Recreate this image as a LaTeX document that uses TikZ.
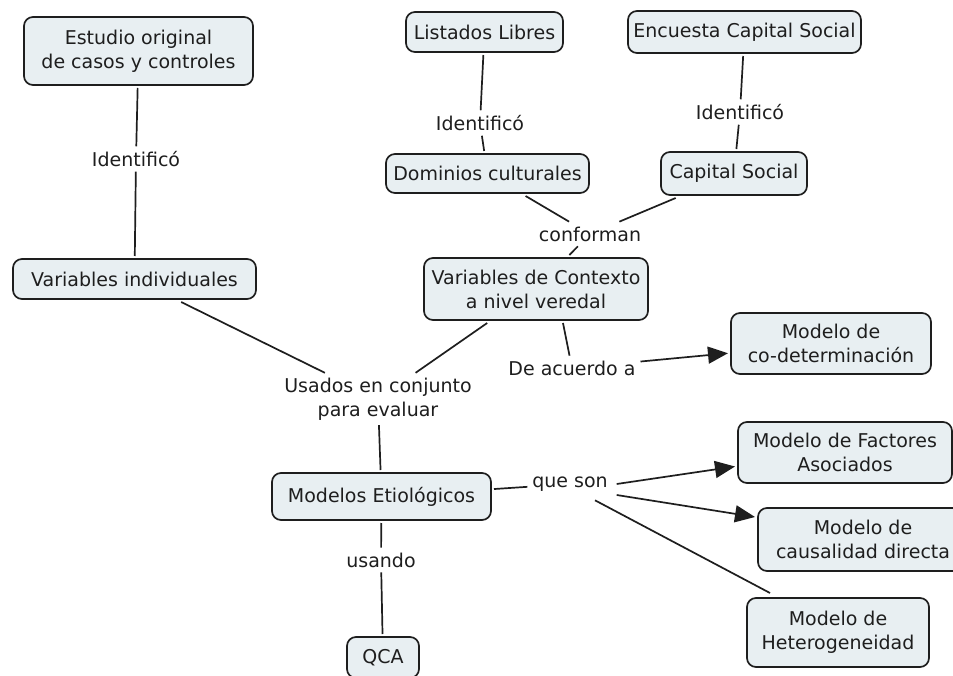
\documentclass[tikz,border=0pt]{standalone}
\usepackage{fontspec}
\setmainfont{DejaVu Sans}
\usetikzlibrary{arrows.meta}
\definecolor{boxfill}{HTML}{E8EFF2}
\definecolor{ink}{HTML}{1E1E1E}
\begin{document}
\begin{tikzpicture}[x=1pt,y=-1pt,
  every node/.style={font=\fontsize{19}{24}\selectfont, text=ink},
  cbox/.style={draw=ink, line width=1.7pt, rounded corners=9pt, fill=boxfill, align=center, inner sep=0pt, outer sep=3pt},
  lbl/.style={align=center, inner sep=5pt, outer sep=0pt},
  conn/.style={draw=ink, line width=1.7pt},
  arr/.style={conn, -{Triangle[length=20pt,width=17pt]}}]
\fill[white] (0,0) rectangle (953,676);
\useasboundingbox (0,0) rectangle (953,676);

% boxes
\node[cbox, minimum width=229, minimum height=68] (est) at (138.5,51) {Estudio original\\de casos y controles};
\node[cbox, minimum width=243, minimum height=40] (vind) at (134.5,279) {Variables individuales};
\node[cbox, minimum width=157, minimum height=40] (lis) at (484.5,32) {Listados Libres};
\node[cbox, minimum width=233, minimum height=42] (enc) at (744.5,32) {Encuesta Capital Social};
\node[cbox, minimum width=203, minimum height=39] (dom) at (487.5,173.5) {Dominios culturales};
\node[cbox, minimum width=146, minimum height=43] (cap) at (734,173.5) {Capital Social};
\node[cbox, minimum width=224, minimum height=62] (ctx) at (536,289) {Variables de Contexto\\a nivel veredal};
\node[cbox, minimum width=219, minimum height=47] (eti) at (381.5,496.5) {Modelos Etiológicos};
\node[cbox, minimum width=72, minimum height=41] (qca) at (383,657.5) {QCA};
\node[cbox, minimum width=200, minimum height=61] (cod) at (831,343.5) {Modelo de\\co-determinación};
\node[cbox, minimum width=214, minimum height=61] (fac) at (845,452.5) {Modelo de Factores\\Asociados};
\node[cbox, minimum width=210, minimum height=63] (cau) at (863,539.5) {Modelo de\\causalidad directa};
\node[cbox, minimum width=182, minimum height=69] (het) at (838,632.5) {Modelo de\\Heterogeneidad};

% linking phrases
\node[lbl] (id1) at (136,159) {Identificó};
\node[lbl] (id2) at (480,123) {Identificó};
\node[lbl] (id3) at (740,112) {Identificó};
\node[lbl] (conf) at (590,234) {conforman};
\node[lbl] (usa) at (378,399) {Usados en conjunto\\para evaluar};
\node[lbl] (usando) at (381,560) {usando};
\node[lbl] (dac) at (572,368) {De acuerdo a};
\node[lbl] (qs) at (570,484) {que son};

% connectors
\draw[conn] (est) -- (id1);
\draw[conn] (id1) -- (vind);
\draw[conn] (lis) -- (id2);
\draw[conn] (id2) -- (dom);
\draw[conn] (enc) -- (id3);
\draw[conn] (id3) -- (cap);
\draw[conn] (dom) -- (conf);
\draw[conn] (cap) -- (conf);
\draw[conn] (conf) -- (ctx);
\draw[conn] (vind) -- (usa);
\draw[conn] (ctx) -- (usa);
\draw[conn] (usa) -- (eti);
\draw[conn] (eti) -- (usando);
\draw[conn] (usando) -- (qca);
\draw[conn] ([xshift=27pt]ctx.south) -- (dac);
\draw[arr] (dac) -- (cod);
\draw[conn] (eti) -- (qs);
\draw[arr] ([xshift=4pt]qs.east) -- ([yshift=-14pt]fac.west);
\draw[arr] ([xshift=4pt,yshift=-11pt]qs.east) -- ([yshift=-12pt]cau.north west);
\draw[conn] ([xshift=25pt,yshift=-4pt]qs.south) -- ([xshift=26pt,yshift=2pt]het.north west);
\end{tikzpicture}
\end{document}
